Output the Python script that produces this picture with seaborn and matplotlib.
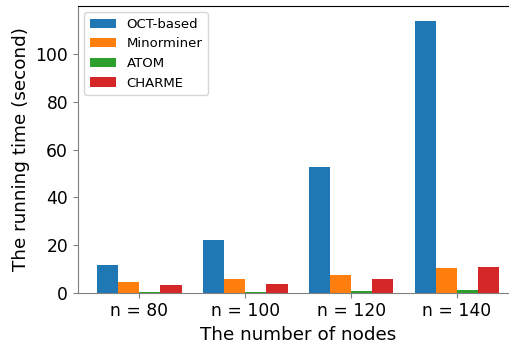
import pandas as pd
import matplotlib
matplotlib.use("Agg")
import matplotlib.pyplot as plt
import seaborn as sns

# ============================
# Data
# ============================

node_labels = ["n = 80", "n = 100", "n = 120", "n = 140"]
methods = ["OCT-based", "Minorminer", "ATOM", "CHARME"]

oct_based = [11.6, 22.1, 52.8, 114.0]
minorminer = [4.5, 5.6, 7.4, 10.2]
atom = [0.1, 0.3, 0.7, 1.1]
charme = [3.2, 3.8, 5.7, 10.8]

rows = []
for name, vals in zip(methods, [oct_based, minorminer, atom, charme]):
    for lab, v in zip(node_labels, vals):
        rows.append({"nodes": lab, "time": v, "method": name})
df = pd.DataFrame(rows)

# ============================
# Plot
# ============================

fig = plt.figure(figsize=(5.09, 3.45), dpi=100)
ax = fig.add_axes([0.1527, 0.1516, 0.866, 0.8314])

sns.barplot(
    data=df,
    x="nodes",
    y="time",
    hue="method",
    order=node_labels,
    hue_order=methods,
    palette="tab10",
    saturation=1,
    errorbar=None,
    width=0.8,
    ax=ax
)

ax.set_xlim(-0.58, 3.58)
ax.set_ylim(0, 120.2)
ax.set_yticks([0, 20, 40, 60, 80, 100])

ax.set_xlabel("The number of nodes", fontsize=13.2)
ax.set_ylabel("The running time (second)", fontsize=13.2)
ax.tick_params(axis="both", labelsize=12.3, color="gray")

for side in ["left", "bottom"]:
    ax.spines[side].set_color("gray")

ax.legend(loc="upper left", fontsize=9.5)

fig.savefig("out.png", dpi=100)
